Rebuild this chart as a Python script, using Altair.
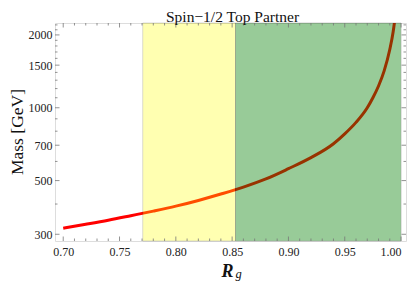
import altair as alt
import pandas as pd

# Curve
rg = [0.70, 0.72, 0.74, 0.76, 0.78, 0.80, 0.82, 0.84, 0.86, 0.88, 0.90, 0.92,
      0.94, 0.95, 0.96, 0.97, 0.975, 0.98, 0.985, 0.99, 0.993, 0.995]
mass = [318, 330, 343, 358, 374, 392, 414, 440, 470, 508, 560, 622,
        710, 780, 870, 1000, 1100, 1230, 1420, 1740, 2060, 2420]

# Bands
band_start = [0.7706, 0.853]
band_end = [0.853, 1.0]
band_name = ["yellow", "green"]

# Tick values
x_major = [0.70, 0.75, 0.80, 0.85, 0.90, 0.95, 1.00]
x_minor = [round(0.70 + 0.01 * i, 2) for i in range(31) if i % 5 != 0]
y_major = [300, 500, 700, 1000, 1500, 2000]
y_minor = [400, 600, 800, 900, 1100, 1200, 1300, 1400, 1600, 1700, 1800, 1900, 2100, 2200]

W, H = 351, 218
XDOM = [0.6927, 1.0044]
YDOM = [281.4, 2240]
FONT = "Liberation Serif"

xs = alt.Scale(domain=XDOM, nice=False, zero=False)
ys = alt.Scale(type="log", domain=YDOM, nice=False)

curve = pd.DataFrame({"rg": rg, "mass": mass})
bands = pd.DataFrame({"x0": band_start, "x1": band_end, "band": band_name})

line = alt.Chart(curve).mark_line(color="#ff0000", strokeWidth=3, clip=True,
                                  interpolate="monotone").encode(
    x=alt.X("rg:Q", scale=xs,
            axis=alt.Axis(values=x_major, format=".2f", title=None, ticks=False,
                          domain=False, grid=False, labelFont=FONT, labelFontSize=12,
                          labelColor="#222", labelPadding=5, labelFlush=6)),
    y=alt.Y("mass:Q", scale=ys,
            axis=alt.Axis(values=y_major, format="d", title=None, ticks=False,
                          domain=False, grid=False, labelFont=FONT, labelFontSize=12,
                          labelColor="#222", labelPadding=3, labelFlush=False)),
)

band_rect = alt.Chart(bands).mark_rect(stroke="#000", strokeOpacity=0.45, strokeWidth=1).encode(
    x=alt.X("x0:Q", scale=xs),
    x2="x1:Q",
    y=alt.value(0),
    y2=alt.value(H),
    color=alt.Color("band:N", scale=alt.Scale(domain=["yellow", "green"],
                                               range=["#ffff00", "#008000"]), legend=None),
    opacity=alt.Opacity("band:N", scale=alt.Scale(domain=["yellow", "green"],
                                                  range=[0.3, 0.4]), legend=None),
)

TICK_COLOR = "#777"


def xticks(vals, length):
    d = pd.DataFrame({"v": vals})
    base = alt.Chart(d).mark_rule(color=TICK_COLOR, strokeWidth=0.8)
    bottom = base.encode(x=alt.X("v:Q", scale=xs), y=alt.value(H), y2=alt.value(H - length))
    top = base.encode(x=alt.X("v:Q", scale=xs), y=alt.value(0), y2=alt.value(length))
    return [bottom, top]


def yticks(vals, length):
    d = pd.DataFrame({"v": vals})
    base = alt.Chart(d).mark_rule(color=TICK_COLOR, strokeWidth=0.8)
    left = base.encode(y=alt.Y("v:Q", scale=ys), x=alt.value(0), x2=alt.value(length))
    right = base.encode(y=alt.Y("v:Q", scale=ys), x=alt.value(W), x2=alt.value(W - length))
    return [left, right]


ticks = xticks(x_major, 4.5) + xticks(x_minor, 2.5) + yticks(y_major, 4.5) + yticks(y_minor, 2.5)

title_df = pd.DataFrame({"t": ["Spin\u22121/2 Top Partner"]})
title = alt.Chart(title_df).mark_text(font=FONT, fontSize=15.5, color="#111",
                                      baseline="alphabetic", align="center").encode(
    text="t:N", x=alt.value(W / 2 + 2), y=alt.value(-1))

ytitle_df = pd.DataFrame({"t": ["Mass [GeV]"]})
ytitle = alt.Chart(ytitle_df).mark_text(font=FONT, fontSize=17.5, color="#111", angle=270,
                                        baseline="alphabetic", align="center").encode(
    text="t:N", x=alt.value(-32), y=alt.value(H / 2))

r_df = pd.DataFrame({"t": ["R"]})
r_label = alt.Chart(r_df).mark_text(font=FONT, fontSize=18, fontStyle="italic", fontWeight="bold",
                                    color="#111", baseline="alphabetic", align="center").encode(
    text="t:N", x=alt.value(W / 2 - 3), y=alt.value(H + 36))
g_df = pd.DataFrame({"t": ["g"]})
g_label = alt.Chart(g_df).mark_text(font=FONT, fontSize=12.5, fontStyle="italic",
                                    color="#111", baseline="alphabetic", align="center").encode(
    text="t:N", x=alt.value(W / 2 + 8), y=alt.value(H + 37))

chart = alt.layer(line, band_rect, *ticks, title, ytitle, r_label, g_label).properties(
    width=W, height=H,
    autosize=alt.AutoSizeParams(type="none"),
    padding={"left": 47, "top": 15, "right": 1, "bottom": 40},
).configure_view(stroke="#888", strokeWidth=1).configure(background="white")

chart.save("out.html", embed_options={"renderer": "svg", "actions": False})
